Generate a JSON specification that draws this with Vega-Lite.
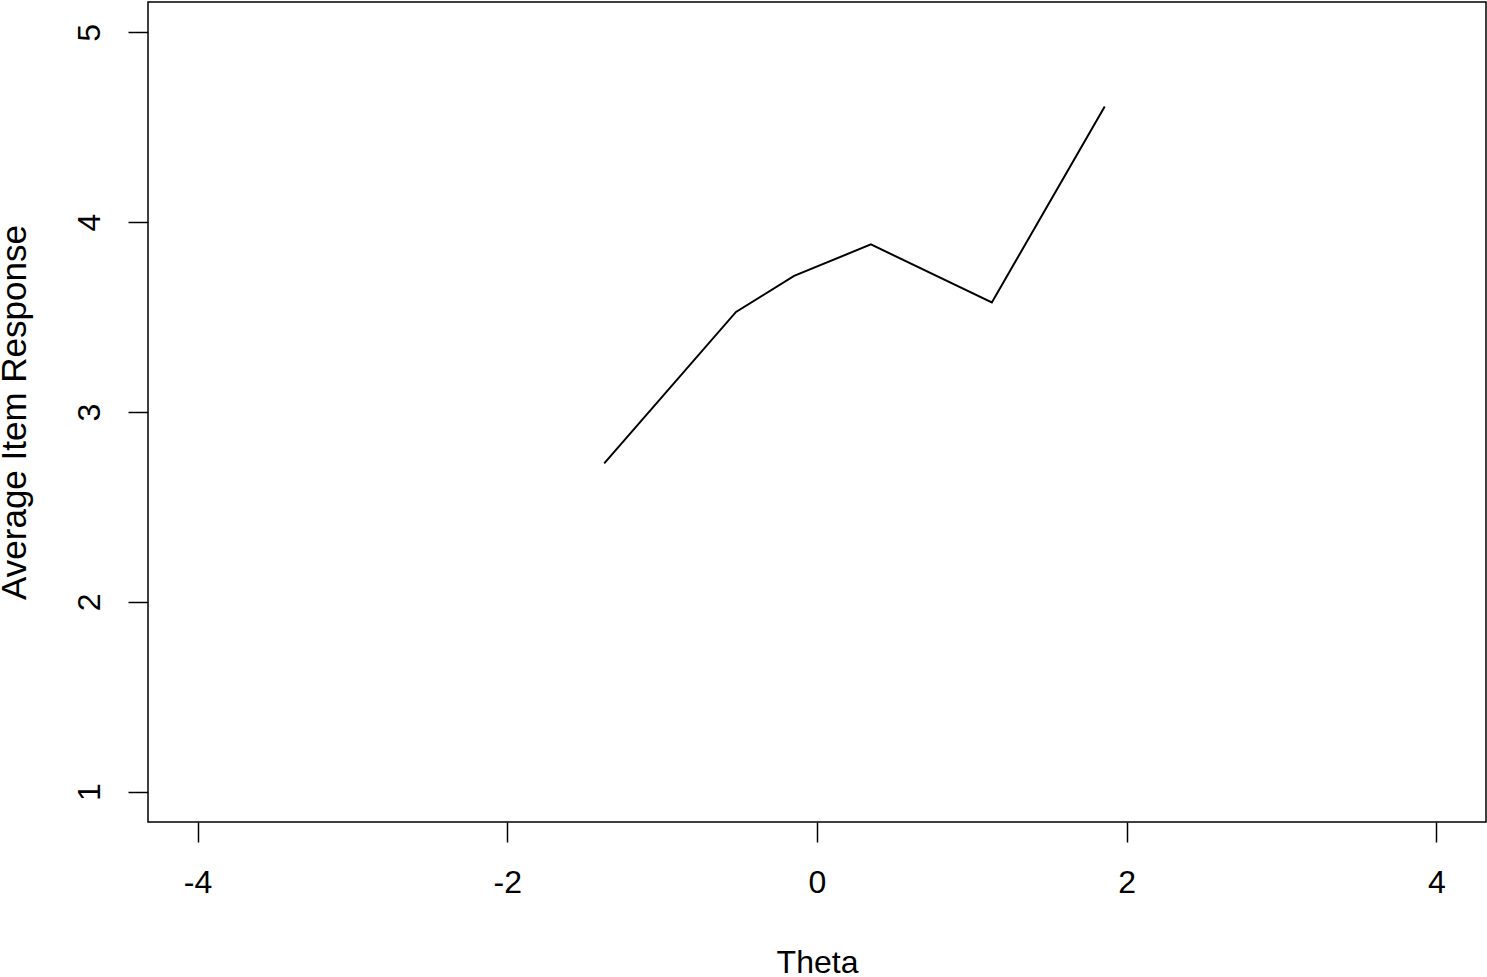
{
  "$schema": "https://vega.github.io/schema/vega-lite/v6.json",
  "width": 1338,
  "height": 820,
  "autosize": {"type": "none"},
  "padding": {"left": 148, "top": 2, "right": 1, "bottom": 155},
  "background": "white",
  "config": {
    "font": "Liberation Sans",
    "view": {"stroke": "black", "strokeWidth": 1.5},
    "axis": {
      "grid": false,
      "domain": false,
      "tickColor": "black",
      "tickWidth": 1.5,
      "tickSize": 20,
      "labelColor": "black",
      "titleColor": "black",
      "labelFontSize": 32,
      "titleFontSize": 32,
      "titleFontWeight": "normal",
      "labelFlush": false,
      "labelOverlap": false,
      "labelExpr": "'' + datum.value"
    }
  },
  "data": {
    "values": [
      {"theta": -1.374, "response": 2.729},
      {"theta": -0.523, "response": 3.527},
      {"theta": -0.148, "response": 3.717},
      {"theta": 0.348, "response": 3.883},
      {"theta": 1.129, "response": 3.577},
      {"theta": 1.858, "response": 4.61}
    ]
  },
  "mark": {"type": "line", "color": "black", "strokeWidth": 2},
  "encoding": {
    "x": {
      "field": "theta",
      "type": "quantitative",
      "scale": {"domain": [-4.32, 4.32], "nice": false, "zero": false},
      "axis": {
        "title": "Theta",
        "values": [-4, -2, 0, 2, 4],
        "labelPadding": 25,
        "titlePadding": 49
      }
    },
    "y": {
      "field": "response",
      "type": "quantitative",
      "scale": {"domain": [0.84, 5.16], "nice": false, "zero": false},
      "axis": {
        "title": "Average Item Response",
        "titleFontSize": 35,
        "values": [1, 2, 3, 4, 5],
        "labelAngle": -90,
        "labelPadding": 22,
        "titlePadding": 41
      }
    }
  }
}
